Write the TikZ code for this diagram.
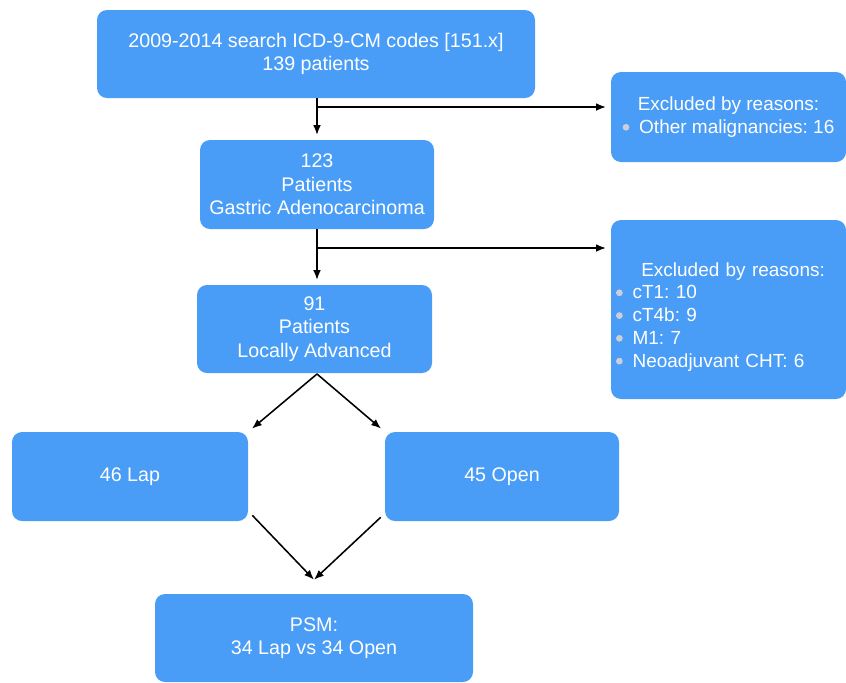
\documentclass[tikz,border=0pt]{standalone}
\usepackage{fontspec}
\setmainfont{Liberation Sans}
\usepackage{tikz}
\usetikzlibrary{arrows.meta}
\tikzset{>={Latex[length=7pt,width=5.5pt]}}
\usetikzlibrary{positioning}
\frenchspacing
\definecolor{boxblue}{RGB}{73,157,246}
\definecolor{bulgray}{RGB}{204,208,214}
\newcommand{\bul}{\tikz[baseline=-0.6ex]\fill[bulgray] (0,0) circle (2.4pt);\hspace{7pt}}
\tikzset{
    box/.style={rectangle, rounded corners=0.25cm, fill=boxblue, text=white, align=center,
        font=\fontsize{14}{16.8}\selectfont, inner sep=0pt},
    exbox/.style={box, font=\fontsize{13.5}{16.2}\selectfont},
    arr/.style={->, line width=1.1pt, shorten >=0.12cm}
}

\begin{document}
\begin{tikzpicture}

    \useasboundingbox (0,0) rectangle (21.15,-17.05);

    \node[box, minimum width=10.95cm, minimum height=2.2cm] (search) at (7.9,-1.35) {2009-2014 search ICD-9-CM codes [151.x]\\139 patients};
    \node[box, minimum width=5.85cm, minimum height=2.225cm] (gastric) at (7.925,-4.6125) {123\\Patients\\Gastric Adenocarcinoma};
    \node[box, minimum width=5.875cm, minimum height=2.2cm] (advanced) at (7.8625,-8.225) {91\\Patients\\Locally Advanced};
    \node[exbox, minimum width=5.875cm, minimum height=2.25cm] (exclA) at (18.2125,-2.925) {Excluded by reasons:\\\bul Other malignancies: 16};
    \node[exbox, minimum width=5.875cm, minimum height=4.475cm, align=left, text width=5.625cm] (exclB) at (18.2125,-7.7375) {\rule{0pt}{20pt}\hspace*{18pt}Excluded by reasons:\\\bul cT1: 10\\\bul cT4b: 9\\\bul M1: 7\\\bul Neoadjuvant CHT: 6};
    \node[box, minimum width=5.9cm, minimum height=2.225cm] (lap) at (3.25,-11.9125) {46 Lap};
    \node[box, minimum width=5.85cm, minimum height=2.225cm] (open) at (12.55,-11.9125) {45 Open};
    \node[box, minimum width=7.95cm, minimum height=2.2cm] (psm) at (7.85,-15.95) {PSM:\\34 Lap vs 34 Open};

    \coordinate (splitA) at (7.925,-2.675);
    \coordinate (splitB) at (7.925,-6.2);
    \coordinate[above=0.35cm of psm.north] (meet);
    \coordinate (fork) at (7.925,-9.35);

    \draw[arr] (gastric.north |- search.south) -- (gastric.north);
    \draw[arr] (splitA) -- (splitA -| exclA.west);
    \draw[arr] (gastric.south) -- (gastric.south |- advanced.north);
    \draw[arr] (splitB) -- (splitB -| exclB.west);

    \draw[arr] (fork) -- (lap.north east);
    \draw[arr] (fork) -- (open.north west);

    \draw[arr, shorten >=0pt] ([shift={(0.1,0.15)}]lap.south east) -- (meet);
    \draw[arr, shorten >=0pt] ([shift={(-0.1,0.1)}]open.south west) -- (meet);

\end{tikzpicture}
\end{document}
